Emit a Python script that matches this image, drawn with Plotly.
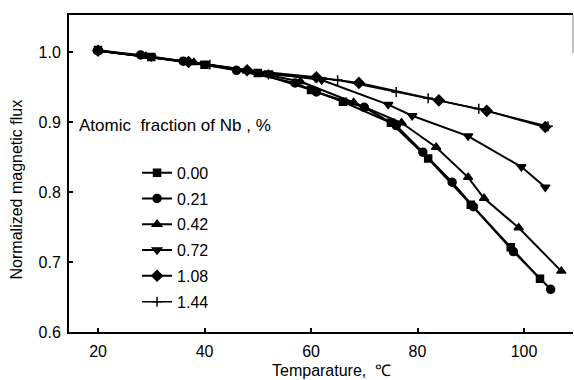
import plotly.graph_objects as go

# Temperature (°C) and normalized magnetic flux for each Nb atomic fraction
labels = ["0.00", "0.21", "0.42", "0.72", "1.08", "1.44"]

t_000 = [20, 30, 40, 50, 60, 66, 75, 82, 90, 97.5, 103]
v_000 = [1.003, 0.993, 0.982, 0.970, 0.946, 0.929, 0.899, 0.848, 0.782, 0.721, 0.676]

t_021 = [20, 28, 36, 46, 57, 61, 70, 76, 81, 86.5, 90.5, 98, 105]
v_021 = [1.002, 0.996, 0.987, 0.974, 0.956, 0.943, 0.921, 0.895, 0.857, 0.814, 0.779, 0.715, 0.661]

t_042 = [20, 29, 38, 48, 58, 68, 77, 83.5, 89.5, 92.5, 99, 107]
v_042 = [1.002, 0.994, 0.985, 0.973, 0.958, 0.928, 0.899, 0.864, 0.821, 0.791, 0.749, 0.687]

t_072 = [20, 30, 40, 52, 62, 74.5, 79, 89.5, 99.5, 104]
v_072 = [1.002, 0.993, 0.983, 0.970, 0.960, 0.925, 0.909, 0.880, 0.836, 0.807]

t_108 = [20, 37, 48, 61, 69, 84, 93, 104]
v_108 = [1.002, 0.986, 0.974, 0.964, 0.956, 0.931, 0.916, 0.893]

t_144 = [20, 41, 52, 65, 76, 82, 91.5, 104.5]
v_144 = [1.002, 0.982, 0.968, 0.960, 0.943, 0.934, 0.919, 0.894]

x_ticks = [20, 40, 60, 80, 100]
y_ticks = [0.6, 0.7, 0.8, 0.9, 1.0]
y_ticktext = ["0.6", "0.7", "0.8", "0.9", "1.0"]

series = [
    (t_000, v_000, "square", 7, 2),
    (t_021, v_021, "circle", 8, 2),
    (t_042, v_042, "triangle-up", 8, 2),
    (t_072, v_072, "triangle-down", 8, 2),
    (t_108, v_108, "diamond", 8, 2),
    (t_144, v_144, "cross-thin-open", 7, 1.5),
]

FONT = "Liberation Sans, Arial, sans-serif"

fig = go.Figure()
for lab, (t, v, sym, ms, lw) in zip(labels, series):
    fig.add_trace(go.Scatter(
        x=t, y=v, name=lab, mode="lines+markers", legendgroup=lab,
        line=dict(color="black", width=lw),
        marker=dict(symbol=sym, size=ms, color="black",
                    line=dict(color="black", width=1.5)),
    ))

fig.update_layout(
    width=574, height=380,
    margin=dict(l=69, r=1, t=15, b=48, autoexpand=False),
    paper_bgcolor="white", plot_bgcolor="white",
    font=dict(family=FONT, color="black", size=16),
    showlegend=True,
    legend=dict(x=0.135, y=0.556, xanchor="left", yanchor="top",
                bgcolor="rgba(0,0,0,0)", borderwidth=0,
                font=dict(size=16), tracegroupgap=2),
    annotations=[
        dict(text="Atomic  fraction of Nb , %", x=0.016, y=0.651,
             xref="paper", yref="paper", xanchor="left", yanchor="middle",
             showarrow=False, font=dict(size=17)),
        dict(text="Temparature,  ℃", x=0.52, y=-0.12,
             xref="paper", yref="paper", xanchor="center", yanchor="middle",
             showarrow=False, font=dict(size=16)),
        dict(text="Normalized magnetic flux", x=-0.105, y=0.45, textangle=-90,
             xref="paper", yref="paper", xanchor="center", yanchor="middle",
             showarrow=False, font=dict(size=16)),
    ],
    shapes=[dict(type="line", xref="paper", yref="paper", x0=1, x1=1, y0=0.88, y1=1,
                 line=dict(color="gray", width=1))],
)
fig.update_xaxes(
    range=[14.55, 109.2], tickvals=x_ticks, ticktext=[str(v) for v in x_ticks],
    showgrid=False, zeroline=False, showline=True, linecolor="black", linewidth=2,
    mirror=True, ticks="inside", ticklen=4, tickcolor="black", tickwidth=1.5,
    tickfont=dict(size=16), ticklabelstandoff=4,
)
fig.update_yaxes(
    range=[0.6, 1.053], tickvals=y_ticks, ticktext=y_ticktext,
    showgrid=False, zeroline=False, showline=True, linecolor="black", linewidth=2,
    ticks="inside", ticklen=4, tickcolor="black", tickwidth=1.5,
    tickfont=dict(size=16), ticklabelstandoff=3,
)

fig.write_html("out.html", config={"displayModeBar": False},
               post_script="document.body.style.margin='0';")
